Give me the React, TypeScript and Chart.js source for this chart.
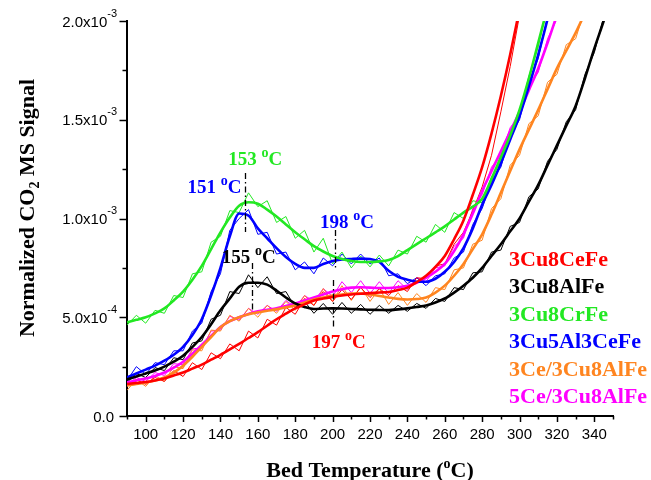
import { useEffect, useRef } from 'react';
import { Chart, registerables } from 'chart.js';

Chart.register(...registerables);

// ---------- data (values in units of 1e-4) ----------
const UNIT = 1e-4;
const TEMPS = [90, 95, 100, 105, 110, 115, 120, 125, 130, 135, 140, 145, 150, 155, 160, 165, 170, 175, 180, 185, 190, 195, 200, 205, 210, 215, 220, 225, 230, 235, 240, 245, 250, 255, 260, 265, 270, 275, 280, 285, 290, 295, 300, 305, 310, 315, 320, 325, 330, 335, 340, 345, 350];

const SERIES_NAMES = ['3Cu8CeFe', '3Cu8AlFe', '3Cu8CrFe', '3Cu5Al3CeFe', '3Ce/3Cu8AlFe', '5Ce/3Cu8AlFe'];
const SERIES_COLORS = ['#ff0000', '#000000', '#22e822', '#0000ff', '#ff8520', '#ff00ff'];

const redSmooth = [1.62, 1.67, 1.72, 1.8, 1.9, 2.05, 2.2, 2.4, 2.6, 2.85, 3.1, 3.37, 3.65, 3.95, 4.25, 4.57, 4.9, 5.18, 5.45, 5.65, 5.85, 5.95, 6.03, 6.1, 6.15, 6.19, 6.22, 6.25, 6.28, 6.38, 6.5, 6.78, 7.1, 7.55, 8.1, 8.95, 9.9, 11.2, 12.6, 14.3, 16.2, 18.3, 20.6];
const redRaw = [1.5, 1.85, 1.6, 1.95, 1.75, 2.3, 2.0, 2.7, 2.35, 3.2, 2.9, 3.65, 3.3, 4.3, 3.95, 4.9, 4.6, 5.5, 5.15, 5.95, 5.6, 6.3, 5.8, 6.4, 5.9, 6.5, 6.0, 6.45, 6.1, 6.6, 6.3, 7.0, 6.95, 7.6, 7.7, 8.7, 9.3, 10.4, 11.6, 13.2, 15.4, 17.7, 20.3];

const blackSmooth = [1.85, 2.0, 2.15, 2.3, 2.5, 2.75, 3.05, 3.5, 4.0, 4.65, 5.35, 5.95, 6.55, 6.75, 6.75, 6.65, 6.35, 6.0, 5.7, 5.52, 5.42, 5.44, 5.45, 5.44, 5.42, 5.4, 5.38, 5.37, 5.36, 5.4, 5.45, 5.52, 5.6, 5.75, 5.95, 6.25, 6.6, 7.0, 7.5, 8.1, 8.7, 9.35, 10.0, 10.85, 11.7, 12.7, 13.7, 14.7, 15.7, 17.1, 18.6, 20.0, 21.5];
const blackRaw = [1.7, 2.15, 1.95, 2.45, 2.3, 2.95, 2.85, 3.7, 3.8, 4.9, 5.1, 6.3, 6.2, 7.15, 6.5, 7.05, 6.2, 6.3, 5.5, 5.8, 5.2, 5.7, 5.15, 5.75, 5.2, 5.65, 5.15, 5.6, 5.2, 5.6, 5.3, 5.7, 5.45, 5.95, 5.8, 6.5, 6.4, 7.25, 7.3, 8.3, 8.4, 9.6, 9.8, 11.1, 11.5, 12.9, 13.5, 14.9, 15.5, 17.3, 18.4, 20.2, 21.3];

const greenSmooth = [4.75, 4.87, 5.0, 5.2, 5.45, 5.85, 6.3, 6.9, 7.6, 8.45, 9.3, 10.05, 10.65, 10.82, 10.75, 10.45, 10.1, 9.7, 9.3, 8.95, 8.6, 8.33, 8.1, 7.95, 7.85, 7.8, 7.8, 7.83, 7.9, 8.1, 8.4, 8.7, 9.0, 9.3, 9.6, 9.95, 10.3, 10.6, 11.0, 12.0, 13.1, 14.2, 15.5, 17.1, 18.9, 20.7, 22.5];
const greenRaw = [4.6, 5.1, 4.7, 5.35, 5.2, 6.1, 6.0, 7.2, 7.3, 8.8, 9.1, 10.4, 10.3, 11.3, 10.6, 10.9, 9.8, 10.1, 9.0, 9.4, 8.3, 9.0, 7.7, 8.3, 7.5, 8.1, 7.55, 8.15, 7.6, 8.4, 8.2, 9.1, 8.8, 9.7, 9.3, 10.3, 10.0, 10.9, 10.8, 12.1, 12.9, 14.3, 15.3, 17.2, 18.7, 20.8];

const blueSmooth = [1.95, 2.15, 2.35, 2.55, 2.8, 3.1, 3.5, 4.1, 4.9, 6.1, 7.5, 9.1, 10.25, 10.15, 9.5, 9.0, 8.5, 8.05, 7.7, 7.5, 7.5, 7.7, 7.85, 7.92, 7.95, 7.97, 7.95, 7.8, 7.35, 7.05, 6.9, 6.8, 6.8, 6.95, 7.3, 7.8, 8.5, 9.5, 10.7, 11.7, 12.8, 14.0, 15.2, 16.7, 18.3, 20.1, 22.0];
const blueRaw = [1.8, 2.5, 2.1, 2.7, 2.6, 3.3, 3.3, 4.3, 4.7, 6.3, 7.2, 9.4, 10.0, 10.45, 9.2, 9.3, 8.2, 8.3, 7.4, 7.8, 7.2, 8.0, 7.6, 8.2, 7.7, 8.2, 7.7, 8.0, 7.1, 7.2, 6.7, 7.0, 6.6, 7.1, 7.2, 8.0, 8.3, 9.7, 10.5, 11.9, 12.6, 14.2, 15.0, 16.9, 18.1, 20.2];

const orangeSmooth = [1.55, 1.62, 1.7, 1.8, 1.95, 2.2, 2.55, 3.0, 3.5, 4.0, 4.5, 4.8, 5.0, 5.15, 5.25, 5.33, 5.4, 5.5, 5.6, 5.75, 5.9, 6.0, 6.1, 6.15, 6.2, 6.2, 6.15, 6.08, 6.0, 5.93, 5.9, 5.92, 6.0, 6.25, 6.6, 7.1, 7.7, 8.45, 9.2, 10.2, 11.3, 12.4, 13.5, 14.5, 15.5, 16.55, 17.6, 18.5, 19.4, 20.4, 21.4];
const orangeRaw = [1.3, 1.85, 1.5, 2.05, 1.75, 2.5, 2.4, 3.35, 3.3, 4.35, 4.3, 5.1, 4.8, 5.45, 5.0, 5.6, 5.2, 5.8, 5.35, 6.1, 5.6, 6.45, 5.8, 6.6, 5.85, 6.55, 5.8, 6.45, 5.65, 6.25, 5.6, 6.2, 5.75, 6.5, 6.4, 7.4, 7.5, 8.7, 8.9, 10.5, 11.0, 12.7, 13.2, 14.8, 15.2, 16.9, 17.3, 18.8, 19.1, 20.6];

const magentaSmooth = [1.7, 1.8, 1.9, 2.03, 2.2, 2.45, 2.75, 3.15, 3.6, 4.05, 4.5, 4.8, 5.0, 5.17, 5.3, 5.38, 5.45, 5.57, 5.7, 5.85, 6.0, 6.15, 6.3, 6.42, 6.5, 6.52, 6.5, 6.48, 6.48, 6.52, 6.6, 6.75, 7.0, 7.3, 7.7, 8.35, 9.2, 10.25, 11.4, 12.4, 13.4, 14.4, 15.4, 16.5, 17.6, 18.9, 20.3];
const magentaRaw = [1.55, 1.95, 1.75, 2.2, 2.05, 2.65, 2.6, 3.4, 3.45, 4.3, 4.35, 5.05, 4.85, 5.45, 5.15, 5.6, 5.3, 5.85, 5.5, 6.1, 5.8, 6.45, 6.05, 6.8, 6.25, 6.85, 6.2, 6.8, 6.2, 6.85, 6.4, 7.0, 6.8, 7.5, 7.6, 8.6, 9.0, 10.5, 11.2, 12.6, 13.2, 14.6, 15.2, 16.7, 17.4, 19.1, 20.1];

const SMOOTH = [redSmooth, blackSmooth, greenSmooth, blueSmooth, orangeSmooth, magentaSmooth];
const RAW = [redRaw, blackRaw, greenRaw, blueRaw, orangeRaw, magentaRaw];

// axes
const X_MIN = 90;
const X_MAX = 350;
const X_LABELS = [100, 120, 140, 160, 180, 200, 220, 240, 260, 280, 300, 320, 340];
const Y_MAX = 2e-3;
const Y_TICK_VALUES = [0, 5e-4, 1e-3, 1.5e-3, 2e-3];
const Y_TICK_MANT = ['0.0', '5.0x10', '1.0x10', '1.5x10', '2.0x10'];
const Y_TICK_EXP = ['', '-4', '-3', '-3', '-3'];

// annotations (peak temperatures)
const ANNOT_TEXT = ['153', '151', '155', '198', '197'];
const ANNOT_COLORS = ['#22e822', '#0000ff', '#000000', '#0000ff', '#ff0000'];
const ANNOT_T = [144.2, 122.3, 140.7, 193.3, 188.8];
const ANNOT_V = [12.71, 11.29, 7.75, 9.52, 3.44];
const DASH_T = [153.1, 156.7, 201.3, 200.1];
const DASH_V1 = [12.3, 7.75, 9.42, 6.89];
const DASH_V2 = [9.32, 5.37, 7.49, 4.46];

const SANS = '"Liberation Sans", Arial, sans-serif';
const SERIF = '"Liberation Serif", "Times New Roman", serif';

type Seg = { t: string; k?: 'sup' | 'sub' };

function drawRich(
  ctx: CanvasRenderingContext2D,
  segs: Seg[],
  x: number,
  y: number,
  size: number,
  smallSize: number,
  supRaise: number,
  subDrop: number,
  family: string,
  weight: string,
  align: 'left' | 'right' | 'center'
) {
  const fontFor = (s: Seg) => `${weight} ${s.k ? smallSize : size}px ${family}`;
  let total = 0;
  const widths = segs.map((s) => {
    ctx.font = fontFor(s);
    const w = ctx.measureText(s.t).width;
    total += w;
    return w;
  });
  let cx = align === 'left' ? x : align === 'right' ? x - total : x - total / 2;
  ctx.textAlign = 'left';
  ctx.textBaseline = 'alphabetic';
  segs.forEach((s, i) => {
    ctx.font = fontFor(s);
    const dy = s.k === 'sup' ? -supRaise : s.k === 'sub' ? subDrop : 0;
    ctx.fillText(s.t, cx, y + dy);
    cx += widths[i];
  });
}

const overlayPlugin = {
  id: 'overlay',
  afterDraw(chart: any) {
    const ctx: CanvasRenderingContext2D = chart.ctx;
    const xs = chart.scales.x;
    const ys = chart.scales.y;
    const { left, bottom } = chart.chartArea;
    ctx.save();
    ctx.strokeStyle = '#000';
    ctx.fillStyle = '#000';
    ctx.lineWidth = 1.5;

    // x ticks
    for (let t = X_MIN; t <= X_MAX; t += 10) {
      const px = Math.round(xs.getPixelForValue(t)) + 0.5;
      const len = t % 20 === 0 ? 6 : 3.5;
      ctx.beginPath();
      ctx.moveTo(px, bottom);
      ctx.lineTo(px, bottom + len);
      ctx.stroke();
    }
    // y ticks
    for (let i = 0; i <= 8; i++) {
      const py = Math.round(ys.getPixelForValue(i * 2.5e-4)) + 0.5;
      const len = i % 2 === 0 ? 7.5 : 4.5;
      ctx.beginPath();
      ctx.moveTo(left, py);
      ctx.lineTo(left - len, py);
      ctx.stroke();
    }
    // x labels
    ctx.font = `15px ${SANS}`;
    ctx.textAlign = 'center';
    ctx.textBaseline = 'alphabetic';
    X_LABELS.forEach((t) => {
      ctx.fillText(String(t), xs.getPixelForValue(t), bottom + 22.5);
    });
    // y labels
    Y_TICK_VALUES.forEach((v, i) => {
      const py = ys.getPixelForValue(v);
      const segs: Seg[] = [{ t: Y_TICK_MANT[i] }];
      if (Y_TICK_EXP[i]) segs.push({ t: Y_TICK_EXP[i], k: 'sup' });
      drawRich(ctx, segs, left - (Y_TICK_EXP[i] ? 10 : 13), py + 5.5, 15, 11, 10, 0, SANS, 'normal', 'right');
    });

    // axis titles
    ctx.fillStyle = '#000';
    drawRich(
      ctx,
      [{ t: 'Bed Temperature (' }, { t: 'o', k: 'sup' }, { t: 'C)' }],
      (chart.chartArea.left + chart.chartArea.right) / 2,
      477,
      22, 14, 9, 0, SERIF, 'bold', 'center'
    );
    ctx.save();
    ctx.translate(34, 208);
    ctx.rotate(-Math.PI / 2);
    drawRich(
      ctx,
      [{ t: 'Normalized CO' }, { t: '2', k: 'sub' }, { t: ' MS Signal' }],
      0, 0, 22, 14, 0, 5, SERIF, 'bold', 'center'
    );
    ctx.restore();

    // dashed peak markers
    ctx.strokeStyle = '#000';
    ctx.lineWidth = 1.3;
    ctx.setLineDash([6, 3, 1.5, 3]);
    DASH_T.forEach((t, i) => {
      const px = Math.round(xs.getPixelForValue(t)) + 0.5;
      ctx.beginPath();
      ctx.moveTo(px, ys.getPixelForValue(DASH_V1[i] * UNIT));
      ctx.lineTo(px, ys.getPixelForValue(DASH_V2[i] * UNIT));
      ctx.stroke();
    });
    ctx.setLineDash([]);

    // annotation labels
    ANNOT_TEXT.forEach((txt, i) => {
      ctx.fillStyle = ANNOT_COLORS[i];
      drawRich(
        ctx,
        [{ t: txt + ' ' }, { t: 'o', k: 'sup' }, { t: 'C' }],
        xs.getPixelForValue(ANNOT_T[i]),
        ys.getPixelForValue(ANNOT_V[i] * UNIT),
        19, 14, 8, 0, SERIF, 'bold', 'left'
      );
    });

    // legend
    ctx.font = `bold 22px ${SERIF}`;
    ctx.textAlign = 'left';
    ctx.textBaseline = 'alphabetic';
    SERIES_NAMES.forEach((name, i) => {
      ctx.fillStyle = SERIES_COLORS[i];
      ctx.fillText(name, 509, 266 + i * 27.4);
    });
    ctx.restore();
  },
};

export default function App() {
  const ref = useRef<HTMLCanvasElement | null>(null);
  useEffect(() => {
    if (!ref.current) return;
    const datasets: any[] = [];
    SMOOTH.forEach((vals, i) => {
      datasets.push({
        label: SERIES_NAMES[i],
        data: vals.map((v, j) => ({ x: TEMPS[j], y: v * UNIT })),
        borderColor: SERIES_COLORS[i],
        borderWidth: 2.6,
        cubicInterpolationMode: 'monotone',
        pointRadius: 0,
        fill: false,
        order: 0,
      });
    });
    RAW.forEach((vals, i) => {
      datasets.push({
        label: SERIES_NAMES[i] + ' raw',
        data: vals.map((v, j) => ({ x: TEMPS[j], y: v * UNIT })),
        borderColor: SERIES_COLORS[i],
        borderWidth: 1,
        tension: 0,
        pointRadius: 0,
        fill: false,
        order: 1,
      });
    });
    const chart = new Chart(ref.current, {
      type: 'line',
      data: { datasets },
      options: {
        animation: false,
        responsive: false,
        layout: { padding: { left: 127, right: 38, top: 21, bottom: 64 } },
        plugins: { legend: { display: false }, tooltip: { enabled: false } },
        scales: {
          x: {
            type: 'linear',
            min: X_MIN,
            max: X_MAX,
            grid: { display: false, drawTicks: false },
            border: { display: true, color: '#000', width: 2 },
            ticks: { display: false },
          },
          y: {
            type: 'linear',
            min: 0,
            max: Y_MAX,
            grid: { display: false, drawTicks: false },
            border: { display: true, color: '#000', width: 2 },
            ticks: { display: false },
          },
        },
      },
      plugins: [overlayPlugin],
    });
    return () => chart.destroy();
  }, []);
  return (
    <div style={{ position: 'absolute', left: 0, top: 0, width: 651, height: 480, background: '#fff' }}>
      <canvas ref={ref} width={651} height={480} style={{ display: 'block' }} />
    </div>
  );
}
